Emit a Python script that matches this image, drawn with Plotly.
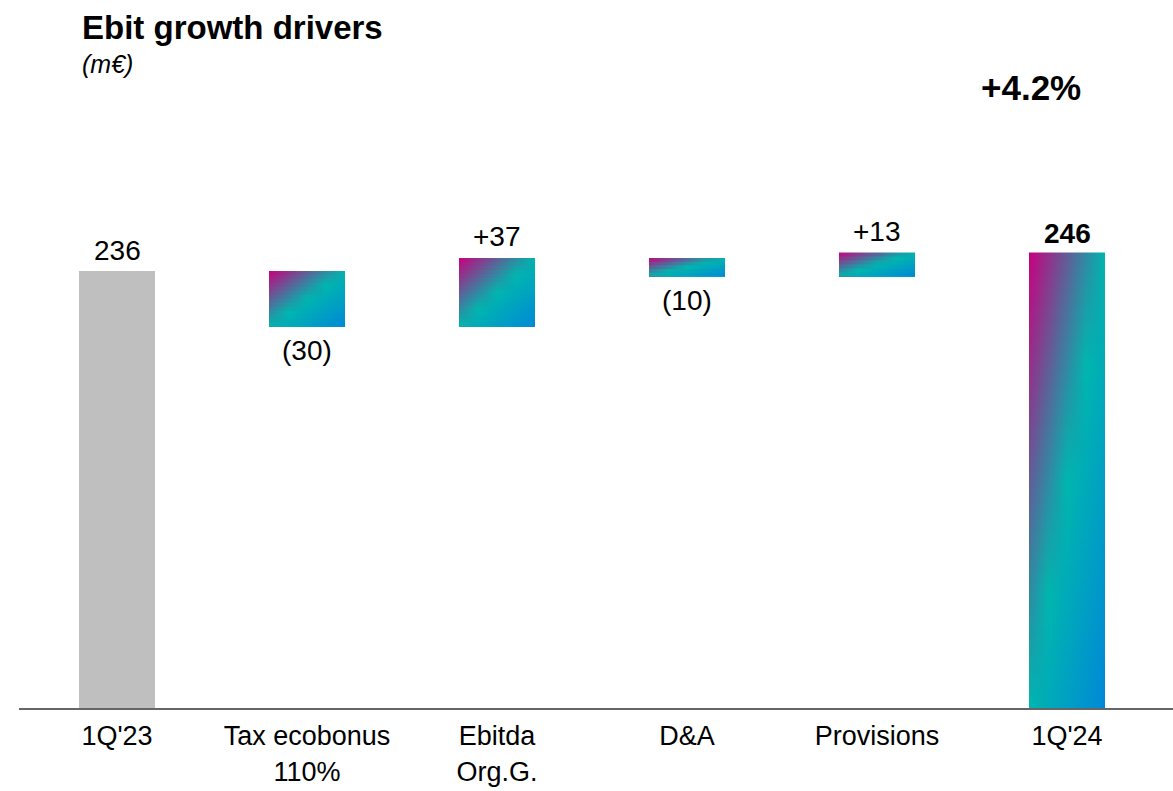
import plotly.graph_objects as go

# Ebit bridge: starting value, the four drivers, closing value (m€)
categories = ["1Q'23", "Tax ecobonus<br>110%", "Ebitda<br>Org.G.", "D&A", "Provisions", "1Q'24"]
start_value = 236
driver_deltas = [-30, 37, -10, 13]
end_value = 246

FONT = "Liberation Sans, Arial, sans-serif"
BAR_W = 0.4
PX_PER_Y = 1.852          # vertical pixels per m€
STRIP_PX = 4              # target height of one gradient strip, pixels

# diagonal brand gradient: magenta (top-left) -> teal -> blue (bottom-right)
grad_stops = [(0.0, (200, 0, 126)), (0.5, (0, 182, 174)), (1.0, (0, 136, 216))]


def grad_color(s):
    s = min(max(s, 0.0), 1.0)
    for (s0, c0), (s1, c1) in zip(grad_stops[:-1], grad_stops[1:]):
        if s <= s1:
            f = (s - s0) / (s1 - s0)
            return "rgb(%d,%d,%d)" % tuple(round(a + (b - a) * f) for a, b in zip(c0, c1))
    return "rgb(%d,%d,%d)" % grad_stops[-1][1]


def gradient_bar(fig, xc, y_low, y_high):
    """Fill a bar with a diagonal gradient: stacked strips, each a horizontal gradient.

    Each strip runs from its own top edge down to the bar bottom and is painted
    over the previous one, so no seams appear between strips."""
    h = y_high - y_low
    n = max(4, round(h * PX_PER_Y / STRIP_PX))
    x0, x1 = xc - BAR_W / 2, xc + BAR_W / 2
    for k in range(n):
        t0 = k / n
        tm = (k + 0.5) / n
        y_top = y_high - t0 * h
        cs = [[u, grad_color((u + tm) / 2)] for u in (0, 0.25, 0.5, 0.75, 1)]
        fig.add_trace(go.Scatter(
            x=[x0, x1, x1, x0, x0], y=[y_top, y_top, y_low, y_low, y_top],
            mode="lines", line=dict(width=0), fill="toself",
            fillgradient=dict(type="horizontal", colorscale=cs, start=x0, stop=x1),
            hoverinfo="skip", showlegend=False,
        ))


def fmt_delta(v):
    return "+%d" % v if v > 0 else "(%d)" % abs(v)


fig = go.Figure()
xs = list(range(len(categories)))

# opening bar
fig.add_trace(go.Bar(x=[xs[0]], y=[start_value], width=BAR_W,
                     marker=dict(color="#BFBFBF", line=dict(width=0)),
                     hoverinfo="skip", showlegend=False))

annotations = [dict(x=xs[0], y=start_value, text=str(start_value), yshift=20)]

# floating driver bars
level = start_value
for i, d in enumerate(driver_deltas, start=1):
    lo, hi = sorted((level, level + d))
    gradient_bar(fig, xs[i], lo, hi)
    if d > 0:
        annotations.append(dict(x=xs[i], y=hi, text=fmt_delta(d), yshift=21))
    else:
        annotations.append(dict(x=xs[i], y=lo, text=fmt_delta(d), yshift=-24))
    level += d

# closing bar
gradient_bar(fig, xs[-1], 0, end_value)
annotations.append(dict(x=xs[-1], y=end_value, text="<b>%d</b>" % end_value, yshift=19))

for a in annotations:
    a.update(xref="x", yref="y", showarrow=False, yanchor="middle",
             font=dict(family=FONT, size=28, color="#000000"))

growth = (end_value / start_value - 1) * 100
PLOT_H = 708


def py(pixel_y):
    return (PLOT_H - pixel_y) / PLOT_H


annotations += [
    dict(xref="paper", yref="paper", x=(80 - 19) / 1154, y=py(27), xanchor="left", yanchor="middle",
         text="<b>Ebit growth drivers</b>", showarrow=False,
         font=dict(family=FONT, size=33, color="#000000")),
    dict(xref="paper", yref="paper", x=(80 - 19) / 1154, y=py(64), xanchor="left", yanchor="middle",
         text="<i>(m€)</i>", showarrow=False,
         font=dict(family=FONT, size=25, color="#000000")),
    dict(xref="paper", yref="paper", x=(1031 - 19) / 1154, y=py(87), xanchor="center", yanchor="middle",
         text="<b>+%.1f%%</b>" % growth, showarrow=False,
         font=dict(family=FONT, size=35, color="#000000")),
]

px_per_unit = 190
x_lo = -98 / px_per_unit
x_hi = x_lo + 1154 / px_per_unit
y_hi = PLOT_H / PX_PER_Y

fig.update_layout(
    width=1173, height=791,
    margin=dict(l=19, r=0, t=0, b=791 - PLOT_H),
    plot_bgcolor="white", paper_bgcolor="white",
    annotations=annotations,
    xaxis=dict(range=[x_lo, x_hi], tickmode="array", tickvals=xs, ticktext=categories,
               showgrid=False, zeroline=False, showline=True, linecolor="#666666", linewidth=2,
               ticks="outside", ticklen=3, tickcolor="rgba(0,0,0,0)", automargin=False,
               tickfont=dict(family=FONT, size=27, color="#000000"), fixedrange=True),
    yaxis=dict(range=[0, y_hi], visible=False, fixedrange=True, automargin=False),
)

fig.write_html("out.html")
